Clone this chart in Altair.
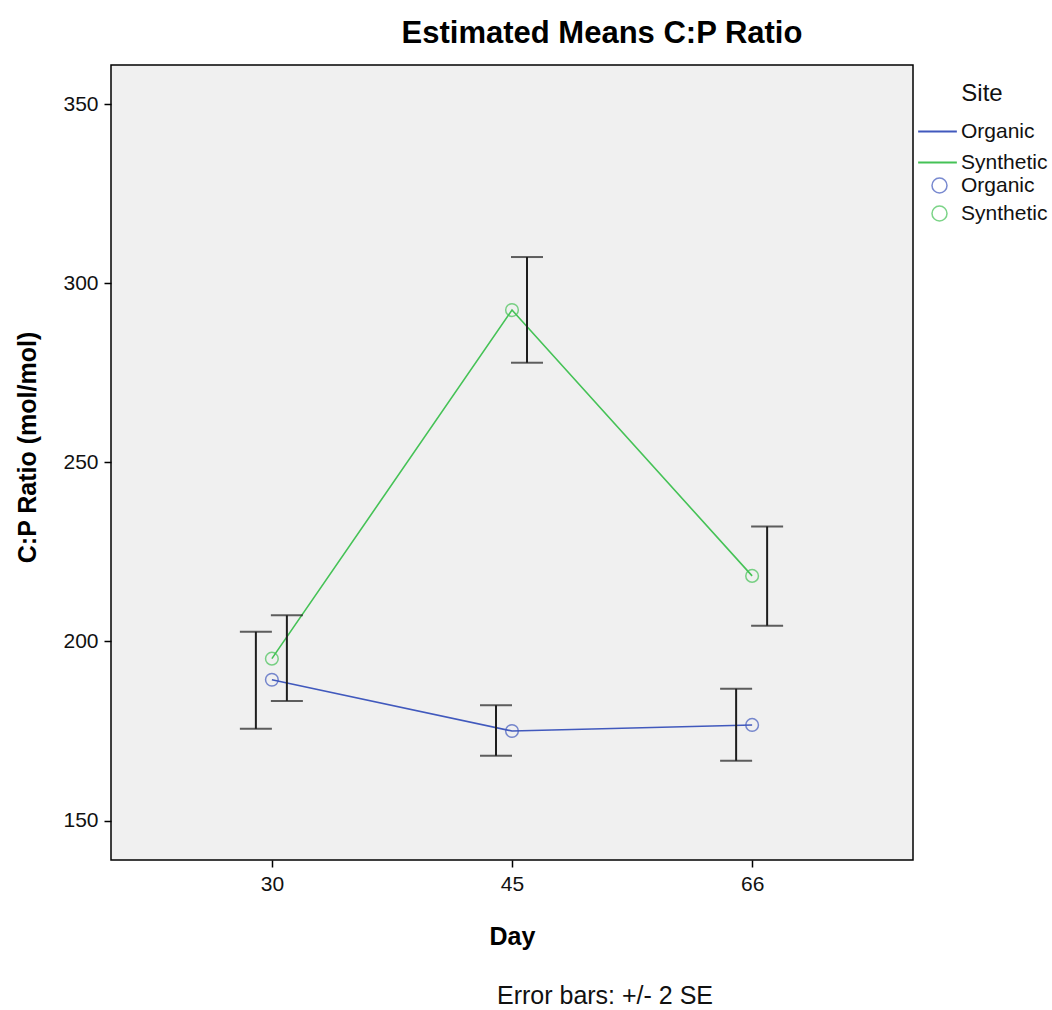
import altair as alt
import pandas as pd

days = ["30", "45", "66"]
sites = ["Organic", "Synthetic"]
site_colors = ["#4159bd", "#45c256"]

organic_mean = [189.3, 175.0, 176.7]
organic_low = [175.6, 168.1, 166.7]
organic_high = [202.7, 182.2, 186.8]

synthetic_mean = [195.2, 292.5, 218.3]
synthetic_low = [183.4, 277.8, 204.4]
synthetic_high = [207.3, 307.3, 232.1]

y_ticks = [150, 200, 250, 300, 350]
title_text = "Estimated Means C:P Ratio"
x_title = "Day"
y_title = "C:P Ratio (mol/mol)"
footnote = "Error bars: +/- 2 SE"

FONT = "Liberation Sans"

rows = []
for site, m, lo, hi in [
    ("Organic", organic_mean, organic_low, organic_high),
    ("Synthetic", synthetic_mean, synthetic_low, synthetic_high),
]:
    for d, a, b, c in zip(days, m, lo, hi):
        rows.append({"Site": site, "SiteP": site, "Day": d, "Mean": a, "Low": b, "High": c})
df = pd.DataFrame(rows)

x_enc = alt.X(
    "Day:O",
    sort=days,
    scale=alt.Scale(type="point", padding=0.67),
    axis=alt.Axis(title=x_title, labelAngle=0, titlePadding=30),
)


def y_enc(field):
    return alt.Y(
        f"{field}:Q",
        scale=alt.Scale(domain=[139.0, 360.9], nice=False, zero=False),
        axis=alt.Axis(values=y_ticks, title=y_title, titlePadding=22, titleY=382),
    )


base = alt.Chart(df)

line = base.mark_line(strokeWidth=1.6).encode(
    x=x_enc,
    y=y_enc("Mean"),
    stroke=alt.Stroke(
        "Site:N",
        scale=alt.Scale(domain=sites, range=site_colors),
        legend=alt.Legend(
            title="Site",
            orient="none",
            legendX=806,
            legendY=17,
            symbolType="stroke",
            symbolSize=1500,
            symbolStrokeWidth=2,
            rowPadding=-4,
            labelOffset=3,
            titleAnchor="middle",
            titleFontSize=24,
            titleFontWeight="normal",
            titlePadding=5,
        ),
    ),
)

points = base.mark_point(filled=False, size=160, strokeWidth=1.5).encode(
    x=x_enc,
    y=y_enc("Mean"),
    color=alt.Color(
        "SiteP:N",
        scale=alt.Scale(range=site_colors),
        legend=alt.Legend(
            title=None,
            orient="none",
            legendX=818,
            legendY=110,
            symbolType="circle",
            symbolSize=225,
            symbolStrokeWidth=1.5,
            rowPadding=6,
            labelOffset=11,
        ),
    ),
)

err_color = "#1e1e1e"
layers = [line, points]
for site, off in [("Organic", -16), ("Synthetic", 15)]:
    sub = base.transform_filter(alt.datum.Site == site)
    layers.append(
        sub.mark_rule(xOffset=off, strokeWidth=2, color=err_color).encode(
            x=x_enc, y=y_enc("Low"), y2="High:Q"
        )
    )
    for fld in ["Low", "High"]:
        layers.append(
            sub.mark_tick(xOffset=off, size=32, thickness=2, color=err_color).encode(
                x=x_enc, y=y_enc(fld)
            )
        )

note = alt.Chart(pd.DataFrame({"note": [footnote]})).mark_text(
    font=FONT, fontSize=25, color="#111111", align="center", baseline="middle"
).encode(text="note:N", x=alt.value(494), y=alt.value(931))
layers.append(note)

chart = (
    alt.layer(*layers)
    .properties(
        width=802,
        height=795,
        title=alt.TitleParams(
            title_text,
            font=FONT,
            fontSize=31,
            fontWeight="bold",
            color="black",
            anchor="middle",
            dx=90,
            offset=15,
        ),
        autosize=alt.AutoSizeParams(type="none"),
        padding={"left": 111, "top": 65, "right": 139, "bottom": 150},
    )
    .configure(font=FONT, background="white")
    .configure_view(fill="#F0F0F0", stroke="black", strokeWidth=1.5)
    .configure_axis(
        labelFont=FONT,
        labelFontSize=21,
        labelColor="#111111",
        labelPadding=6,
        tickColor="black",
        tickSize=7,
        tickWidth=1.5,
        domain=False,
        grid=False,
        titleFont=FONT,
        titleFontSize=25,
        titleFontWeight="bold",
        titleColor="black",
    )
    .configure_legend(
        labelFont=FONT,
        labelFontSize=21,
        labelColor="#111111",
        titleFont=FONT,
        titleColor="#111111",
    )
)

chart.save("out.html", embed_options={"renderer": "svg", "actions": False})
